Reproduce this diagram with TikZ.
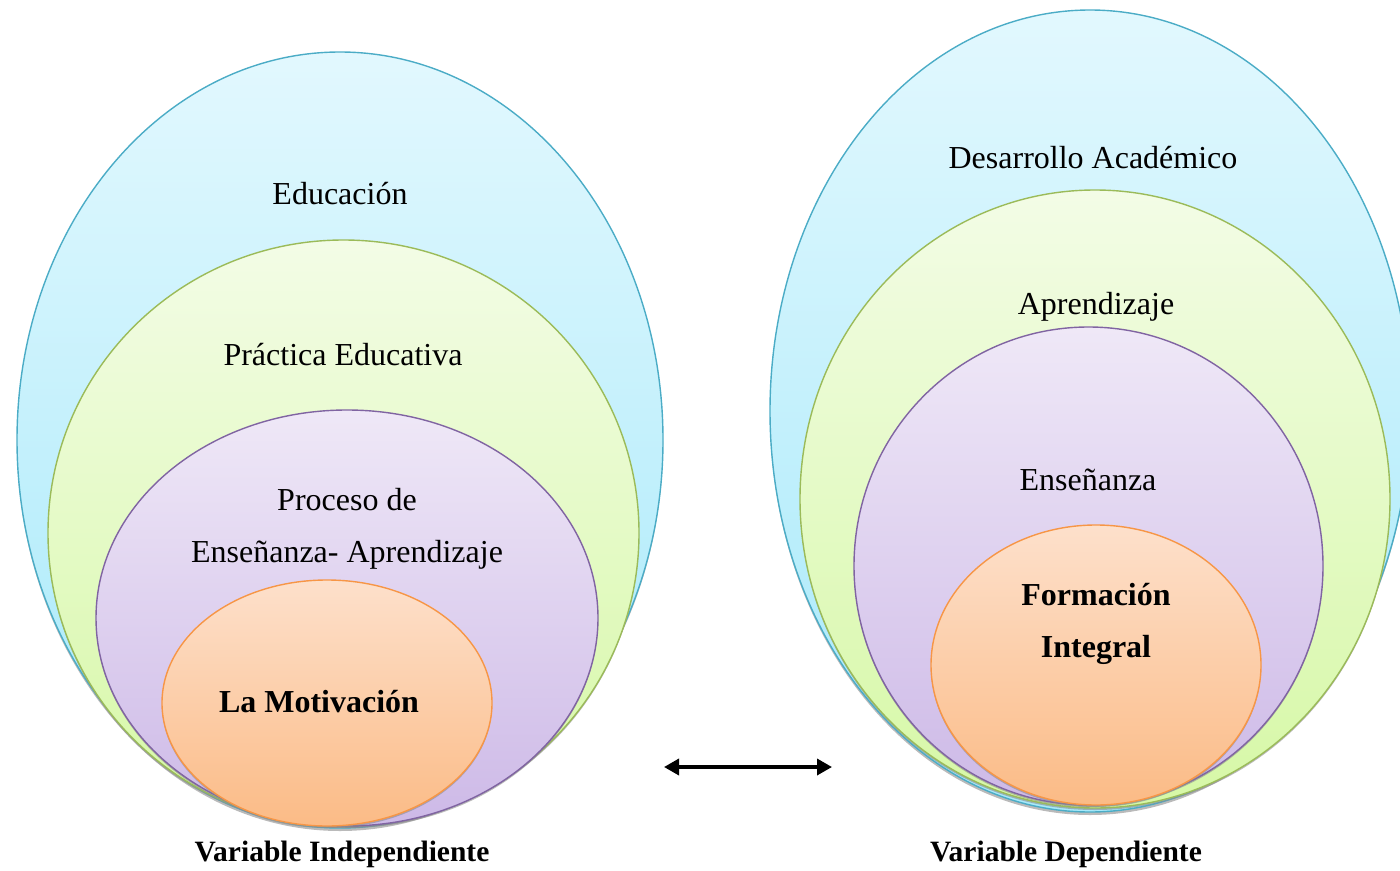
\documentclass[tikz,border=0pt]{standalone}
\usepackage{fontspec}
\setmainfont{Liberation Serif}
\usetikzlibrary{arrows.meta}
\definecolor{bluestroke}{HTML}{4BACC6}
\definecolor{bluetop}{HTML}{E2F8FE}
\definecolor{bluebot}{HTML}{A6E9FA}
\definecolor{greenstroke}{HTML}{9BBB59}
\definecolor{greentop}{HTML}{F3FCE6}
\definecolor{greenbot}{HTML}{D6F8A6}
\definecolor{purplestroke}{HTML}{8064A2}
\definecolor{purpletop}{HTML}{EFE8F7}
\definecolor{purplebot}{HTML}{CDB9E7}
\definecolor{orangestroke}{HTML}{F79646}
\definecolor{orangetop}{HTML}{FDE0CB}
\definecolor{orangebot}{HTML}{FBBB86}
\tikzset{
  blueell/.style={top color=bluetop, bottom color=bluebot, draw=bluestroke, line width=1.4pt},
  greenell/.style={top color=greentop, bottom color=greenbot, draw=greenstroke, line width=1.4pt},
  purpleell/.style={top color=purpletop, bottom color=purplebot, draw=purplestroke, line width=1.4pt},
  orangeell/.style={top color=orangetop, bottom color=orangebot, draw=orangestroke, line width=1.4pt},
  shadowell/.style={fill=black!45, opacity=0.6},
  lbl/.style={font=\fontsize{32}{36}\selectfont, inner sep=0pt, yshift=-3pt},
  blbl/.style={font=\fontsize{32}{36}\selectfont\bfseries, inner sep=0pt, yshift=-3pt},
  caption/.style={font=\fontsize{29.5}{34}\selectfont\bfseries, inner sep=0pt, yshift=-2pt},
}
\begin{document}
\begin{tikzpicture}[x=1pt,y=-1pt]
\useasboundingbox (0,0) rectangle (1400,870);
% ---- left group ----
\fill[shadowell] (340,443) ellipse [x radius=323, y radius=388];
\path[blueell] (340,440) ellipse [x radius=323, y radius=388];
\fill[shadowell] (343.5,535) ellipse [x radius=295.5, y radius=293];
\path[greenell] (343.5,533) ellipse [x radius=295.5, y radius=293];
\fill[shadowell] (347,620) ellipse [x radius=251, y radius=208];
\path[purpleell] (347,618) ellipse [x radius=251, y radius=208];
\fill[shadowell] (327,705) ellipse [x radius=165, y radius=123];
\path[orangeell] (327,703) ellipse [x radius=165, y radius=123];
\node[lbl] (educ) at (340,191) {Educación};
\node[lbl] (prac) at (343,352) {Práctica Educativa};
\node[lbl] (proc1) at (347,497) {Proceso de};
\node[lbl] (proc2) at (347,552) {Enseñanza- Aprendizaje};
\node[blbl] (motiv) at (319,699) {La Motivación};
\node[caption] (vi) at (342,852) {Variable Independiente};
% ---- right group ----
\fill[shadowell] (1090,414) ellipse [x radius=320, y radius=401];
\path[blueell] (1090,411) ellipse [x radius=320, y radius=401];
\fill[shadowell] (1095,501) ellipse [x radius=295, y radius=309];
\path[greenell] (1095,499) ellipse [x radius=295, y radius=309];
\fill[shadowell] (1088.5,568) ellipse [x radius=234.5, y radius=239];
\path[purpleell] (1088.5,566) ellipse [x radius=234.5, y radius=239];
\fill[shadowell] (1096,667) ellipse [x radius=165, y radius=140];
\path[orangeell] (1096,665) ellipse [x radius=165, y radius=140];
\node[lbl] (desa) at (1093,155) {Desarrollo Académico};
\node[lbl] (apre) at (1096,304) {Aprendizaje};
\node[lbl] (ense) at (1088,477) {Enseñanza};
\node[blbl] (form1) at (1096,592) {Formación};
\node[blbl] (form2) at (1096,647) {Integral};
\node[caption] (vd) at (1066,852) {Variable Dependiente};
% ---- arrow ----
\coordinate (aL) at (664,767);
\coordinate (aR) at (832,767);
\draw[line width=3.5pt, {Triangle[length=15pt,width=16pt]}-{Triangle[length=15pt,width=16pt]}] (aL) -- (aR);
\end{tikzpicture}
\end{document}
